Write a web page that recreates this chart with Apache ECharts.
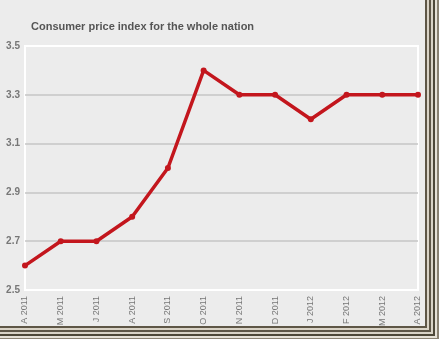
<!DOCTYPE html>
<html><head><meta charset="utf-8">
<script src="https://cdn.jsdelivr.net/npm/echarts@6/dist/echarts.min.js"></script>
<style>html,body{margin:0;padding:0;background:#ececec}#c{width:439px;height:339px}</style>
</head><body><div id="c"></div>
<script>
const categories = ['A 2011','M 2011','J 2011','A 2011','S 2011','O 2011','N 2011','D 2011','J 2012','F 2012','M 2012','A 2012'];
const cpiValues = [2.6, 2.7, 2.7, 2.8, 3.0, 3.4, 3.3, 3.3, 3.2, 3.3, 3.3, 3.3];
const yTicks = [2.5, 2.7, 2.9, 3.1, 3.3, 3.5];
const titleText = 'Consumer price index for the whole nation';

const chart = echarts.init(document.getElementById('c'), null, {renderer: 'canvas'});
const frame = [];
const stripeCols = ['#5e5646', '#d9d3c6', '#5e5646', '#d9d3c6', '#4e4838', '#e6e1d6', '#8a8272'];
stripeCols.forEach((c, i) => {
  frame.push({type: 'rect', shape: {x: 425 + i * 2, y: 0, width: 2, height: 339}, style: {fill: c}, silent: true, z: 10});
  frame.push({type: 'rect', shape: {x: 0, y: 326 + i * 2, width: 439, height: 2}, style: {fill: c}, silent: true, z: 10});
});
chart.setOption({
  backgroundColor: '#ececec',
  animation: false,
  title: {text: titleText, left: 26, top: 16, textStyle: {fontFamily: 'Liberation Sans, Arial', fontSize: 11, fontWeight: 'bold', color: '#555'}},
  grid: {left: 25, right: 21, top: 46, bottom: 49, show: true, borderColor: '#ffffff', borderWidth: 2, backgroundColor: '#ececec'},
  xAxis: {
    type: 'category', data: categories, boundaryGap: false,
    axisLine: {show: false}, axisTick: {show: false}, splitLine: {show: false},
    axisLabel: {rotate: 90, fontFamily: 'Liberation Sans, Arial', fontSize: 9, color: '#777', margin: 6, interval: 0}
  },
  yAxis: {
    type: 'value', min: 2.5, max: 3.5, interval: 0.2,
    axisLine: {show: false}, axisTick: {show: false},
    splitLine: {lineStyle: {color: ['#ffffff', '#c6c6c6', '#c6c6c6', '#c6c6c6', '#c6c6c6', '#ffffff'], width: 1.5}},
    axisLabel: {fontFamily: 'Liberation Sans, Arial', fontSize: 10, fontWeight: 'bold', color: '#777', margin: 5,
      formatter: v => yTicks.includes(Math.round(v*10)/10) ? v.toFixed(1) : '' }
  },
  series: [{
    type: 'line', data: cpiValues, symbol: 'circle', symbolSize: 6,
    lineStyle: {color: '#c3161d', width: 3.5}, itemStyle: {color: '#c3161d'}
  }],
  graphic: frame
});
</script></body></html>
